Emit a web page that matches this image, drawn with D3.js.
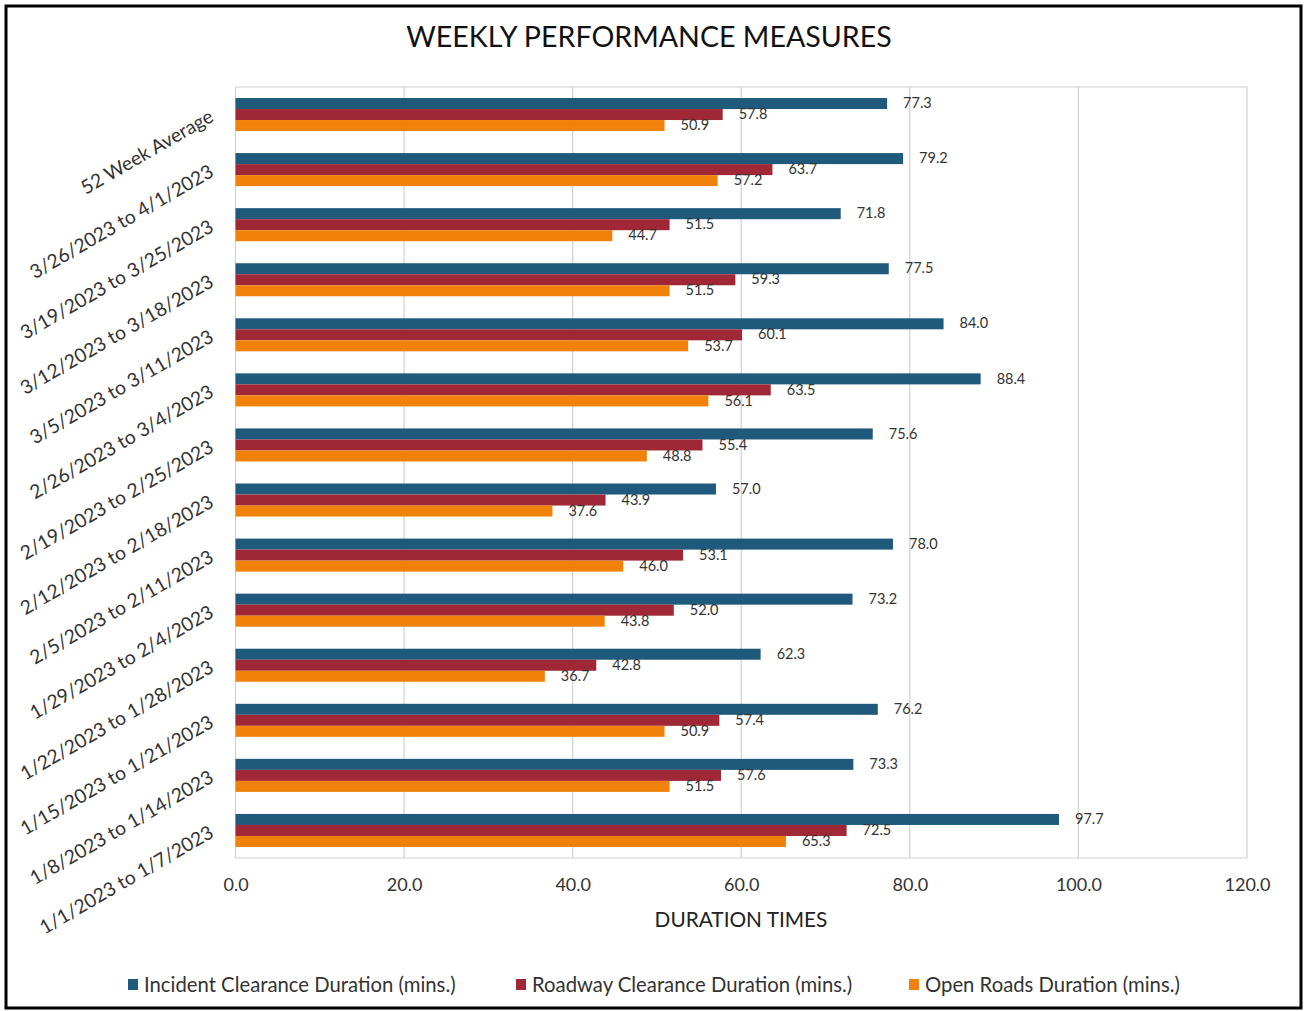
<!DOCTYPE html>
<html>
<head>
<meta charset="utf-8">
<script src="https://cdn.jsdelivr.net/npm/d3@7"></script>
<style>
  body { margin: 0; background: #fff; }
  svg { display: block; }
  text { font-family: Lato, "Open Sans", sans-serif; }
</style>
</head>
<body>
<div id="chart"></div>
<script>
const categories = [
  "52 Week Average",
  "3/26/2023 to 4/1/2023",
  "3/19/2023 to 3/25/2023",
  "3/12/2023 to 3/18/2023",
  "3/5/2023 to 3/11/2023",
  "2/26/2023 to 3/4/2023",
  "2/19/2023 to 2/25/2023",
  "2/12/2023 to 2/18/2023",
  "2/5/2023 to 2/11/2023",
  "1/29/2023 to 2/4/2023",
  "1/22/2023 to 1/28/2023",
  "1/15/2023 to 1/21/2023",
  "1/8/2023 to 1/14/2023",
  "1/1/2023 to 1/7/2023"
];
const seriesNames = [
  "Incident Clearance Duration (mins.)",
  "Roadway Clearance Duration (mins.)",
  "Open Roads Duration (mins.)"
];
const incidentClearance = [77.3, 79.2, 71.8, 77.5, 84.0, 88.4, 75.6, 57.0, 78.0, 73.2, 62.3, 76.2, 73.3, 97.7];
const roadwayClearance  = [57.8, 63.7, 51.5, 59.3, 60.1, 63.5, 55.4, 43.9, 53.1, 52.0, 42.8, 57.4, 57.6, 72.5];
const openRoads         = [50.9, 57.2, 44.7, 51.5, 53.7, 56.1, 48.8, 37.6, 46.0, 43.8, 36.7, 50.9, 51.5, 65.3];
const xTicks = [0, 20, 40, 60, 80, 100, 120];
const colors = ["#1f5a7c", "#a02836", "#f0820c"];

const seriesValues = [incidentClearance, roadwayClearance, openRoads];

const W = 1305, H = 1011;
const plot = { left: 235.5, right: 1247, top: 87, bottom: 858 };
const FONT = "Lato, 'Open Sans', sans-serif";

const svg = d3.select("#chart").append("svg").attr("width", W).attr("height", H);

// outer border
svg.append("rect").attr("x", 6).attr("y", 6).attr("width", W - 10).attr("height", H - 9)
  .attr("fill", "#fff").attr("stroke", "#000").attr("stroke-width", 3);

const x = d3.scaleLinear().domain([0, 120]).range([plot.left, plot.right]);
const y = d3.scaleBand().domain(categories).range([plot.top, plot.bottom]).paddingInner(0.4).paddingOuter(0.2);
const ySub = d3.scaleBand().domain(d3.range(3)).range([0, y.bandwidth()]);

// title
svg.append("text").attr("x", 649).attr("y", 47).attr("text-anchor", "middle")
  .attr("font-size", 28.6).attr("fill", "#111").text("WEEKLY PERFORMANCE MEASURES");

// grid
const g = svg.append("g");
g.selectAll("line.grid").data(xTicks).join("line")
  .attr("x1", d => x(d)).attr("x2", d => x(d))
  .attr("y1", plot.top).attr("y2", plot.bottom)
  .attr("stroke", "#d0d0d0").attr("stroke-width", 1.2);
g.append("line").attr("x1", plot.left).attr("x2", plot.right).attr("y1", plot.top).attr("y2", plot.top)
  .attr("stroke", "#d0d0d0").attr("stroke-width", 1.2);
g.append("line").attr("x1", plot.left).attr("x2", plot.right).attr("y1", plot.bottom).attr("y2", plot.bottom)
  .attr("stroke", "#d0d0d0").attr("stroke-width", 1.2);

// bars
const rows = [];
categories.forEach((c, i) => seriesValues.forEach((s, k) => rows.push({ c, k, v: s[i] })));

g.selectAll("rect.bar").data(rows).join("rect")
  .attr("class", "bar")
  .attr("x", x(0))
  .attr("y", d => y(d.c) + ySub(d.k))
  .attr("width", d => x(d.v) - x(0))
  .attr("height", ySub.bandwidth())
  .attr("fill", d => colors[d.k]);

// value labels
g.selectAll("text.val").data(rows).join("text")
  .attr("x", d => x(d.v) + 16)
  .attr("y", d => y(d.c) + ySub(d.k) + ySub.bandwidth() / 2 + 1)
  .attr("dominant-baseline", "middle")
  .attr("font-size", 14.5).attr("fill", "#333")
  .text(d => d.v.toFixed(1));

// x axis tick labels
const xAxis = d3.axisBottom(x).tickValues(xTicks).tickFormat(d => d.toFixed(1)).tickSize(0).tickPadding(20);
const ax = svg.append("g").attr("transform", `translate(0,${plot.bottom})`).call(xAxis);
ax.select(".domain").remove();
ax.selectAll("text").attr("font-size", 18).attr("fill", "#333").style("font-family", FONT);

// y axis labels (rotated)
const yAxis = d3.axisLeft(y).tickSize(0).tickPadding(24);
const ay = svg.append("g").attr("transform", `translate(${plot.left},0)`).call(yAxis);
ay.select(".domain").remove();
ay.selectAll("text")
  .attr("font-size", 19.3).attr("fill", "#333")
  .style("font-family", FONT)
  .attr("text-anchor", "end")
  .attr("dy", "0.35em")
  .attr("transform", "rotate(-30,-24,0)");

// axis title
svg.append("text").attr("x", 741).attr("y", 927).attr("text-anchor", "middle")
  .attr("font-size", 20.8).attr("fill", "#222").text("DURATION TIMES");

// legend
const legendX = [128, 516, 909];
const lg = svg.append("g");
seriesNames.forEach((n, k) => {
  lg.append("rect").attr("x", legendX[k]).attr("y", 979).attr("width", 10).attr("height", 11).attr("fill", colors[k]);
  lg.append("text").attr("x", legendX[k] + 16).attr("y", 992).attr("font-size", 20.3).attr("fill", "#333").text(n);
});
</script>
</body>
</html>
